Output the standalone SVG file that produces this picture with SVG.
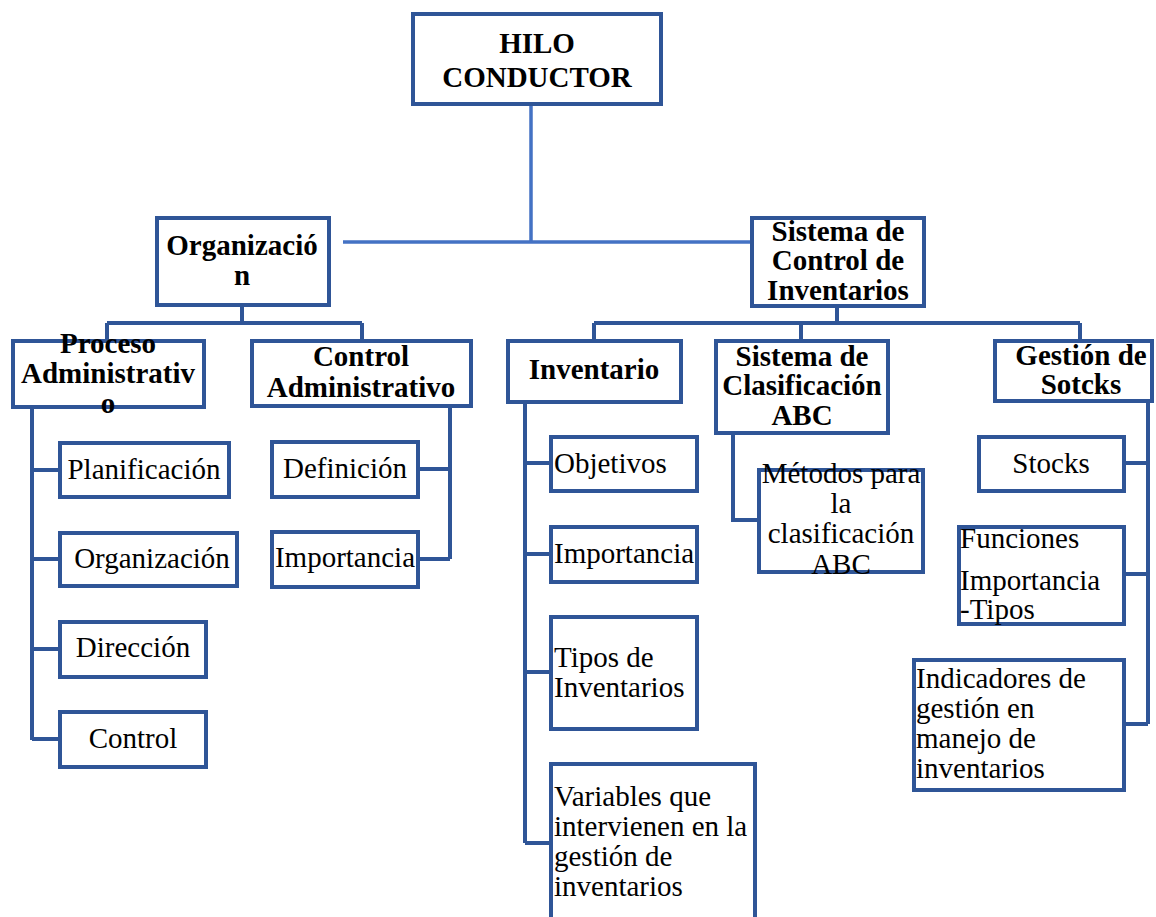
<svg xmlns="http://www.w3.org/2000/svg" width="1156" height="917" viewBox="0 0 1156 917">
<style>
.box{fill:#fff;stroke:#2F5597;stroke-width:4}
.ln{fill:none;stroke:#2F5597;stroke-width:4}
.ln2{fill:none;stroke:#4472C4;stroke-width:3.5}
text{font-family:'Liberation Serif','DejaVu Serif',serif;font-size:29px;fill:#000}
.b{font-weight:bold}
.c{text-anchor:middle}
</style>
<rect width="1156" height="917" fill="#fff"/>
<g id="connectors">
<path class="ln2" d="M531 104V242M343 242H752"/>
<path class="ln" d="M242 305V323M107 323H362M107 323V341M362 323V341"/>
<path class="ln" d="M32 407V740M32 470H60M32 559H60M32 649H60M32 739H60"/>
<path class="ln" d="M450 406V559M418 469H450M418 559H450"/>
<path class="ln" d="M837 306V323M594 323H1080M594 323V341M801 323V341M1080 323V341"/>
<path class="ln" d="M525 402V843M525 463H551M525 554H551M525 672H551M525 843H551"/>
<path class="ln" d="M733 433V520H759"/>
<path class="ln" d="M1148 401V724M1124 463H1148M1124 574H1148M1124 724H1148"/>
</g>
<g id="hilo"><rect class="box" x="413" y="14" width="248" height="90"/><text class="b c" x="537" y="53">HILO</text><text class="b c" x="537" y="87">CONDUCTOR</text></g>
<g id="organizacion"><rect class="box" x="157" y="218" width="172" height="87"/><text class="b c" x="242" y="255">Organizació</text><text class="b c" x="242" y="285">n</text></g>
<g id="sistema-control"><rect class="box" x="752" y="218" width="172" height="88"/><text class="b c" x="838" y="241">Sistema de</text><text class="b c" x="838" y="270">Control de</text><text class="b c" x="838" y="300">Inventarios</text></g>
<g id="proceso"><rect class="box" x="13" y="341" width="191" height="66"/><text class="b c" x="108" y="353">Proceso</text><text class="b c" x="108" y="383">Administrativ</text><text class="b c" x="108" y="413">o</text></g>
<g id="control-admin"><rect class="box" x="252" y="341" width="219" height="65"/><text class="b c" x="361" y="366">Control</text><text class="b c" x="361" y="397">Administrativo</text></g>
<g id="inventario"><rect class="box" x="508" y="341" width="173" height="61"/><text class="b c" x="594" y="379">Inventario</text></g>
<g id="clasificacion"><rect class="box" x="716" y="341" width="172" height="92"/><text class="b c" x="802" y="366">Sistema de</text><text class="b c" x="802" y="395">Clasificación</text><text class="b c" x="802" y="425">ABC</text></g>
<g id="gestion"><rect class="box" x="995" y="341" width="157" height="60"/><text class="b c" x="1081" y="365">Gestión de</text><text class="b c" x="1081" y="394">Sotcks</text></g>
<g id="planificacion"><rect class="box" x="60" y="443" width="169" height="54"/><text class="c" x="144" y="479">Planificación</text></g>
<g id="organizacion2"><rect class="box" x="60" y="533" width="177" height="53"/><text class="c" x="152" y="568">Organización</text></g>
<g id="direccion"><rect class="box" x="60" y="622" width="146" height="55"/><text class="c" x="133" y="657">Dirección</text></g>
<g id="control"><rect class="box" x="60" y="712" width="146" height="55"/><text class="c" x="133" y="748">Control</text></g>
<g id="definicion"><rect class="box" x="272" y="442" width="146" height="55"/><text class="c" x="345" y="478">Definición</text></g>
<g id="importancia1"><rect class="box" x="272" y="532" width="146" height="55"/><text class="c" x="345" y="567">Importancia</text></g>
<g id="objetivos"><rect class="box" x="551" y="437" width="146" height="54"/><text x="554" y="473">Objetivos</text></g>
<g id="importancia2"><rect class="box" x="551" y="527" width="146" height="55"/><text x="554" y="563">Importancia</text></g>
<g id="tipos"><rect class="box" x="551" y="617" width="146" height="112"/><text x="554" y="667">Tipos de</text><text x="554" y="697">Inventarios</text></g>
<g id="variables"><rect class="box" x="551" y="764" width="204" height="160"/><text x="554" y="806">Variables que</text><text x="554" y="836">intervienen en la</text><text x="554" y="866">gestión de</text><text x="554" y="896">inventarios</text></g>
<g id="metodos"><rect class="box" x="759" y="470" width="164" height="102"/><text class="c" x="841" y="483">Métodos para</text><text class="c" x="841" y="513">la</text><text class="c" x="841" y="543">clasificación</text><text class="c" x="841" y="574">ABC</text></g>
<g id="stocks"><rect class="box" x="979" y="437" width="145" height="54"/><text class="c" x="1051" y="473">Stocks</text></g>
<g id="funciones"><rect class="box" x="959" y="527" width="165" height="97"/><text x="960" y="548">Funciones</text><text x="960" y="590">Importancia</text><text x="960" y="619">-Tipos</text></g>
<g id="indicadores"><rect class="box" x="914" y="660" width="210" height="130"/><text x="916" y="688">Indicadores de</text><text x="916" y="718">gestión en</text><text x="916" y="748">manejo de</text><text x="916" y="778">inventarios</text></g>
</svg>
